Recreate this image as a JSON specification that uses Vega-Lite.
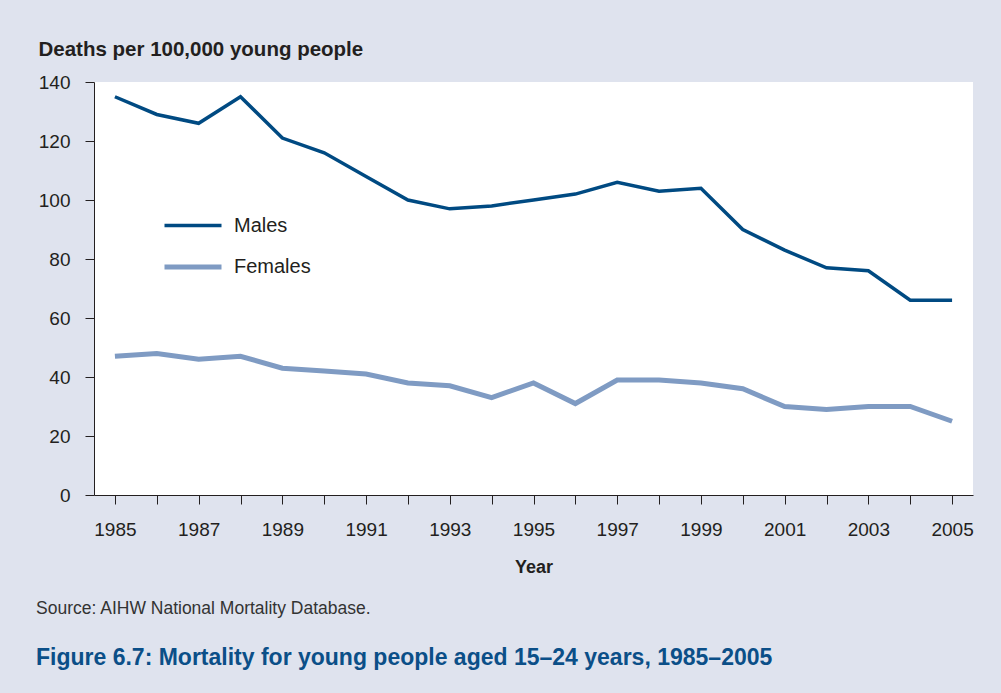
{
  "$schema": "https://vega.github.io/schema/vega-lite/v6.json",
  "width": 879,
  "height": 413,
  "autosize": {"type": "none"},
  "padding": {"left": 94, "top": 82, "right": 28, "bottom": 198},
  "background": "#dfe3ee",
  "config": {
    "view": {"fill": "white", "stroke": null},
    "font": "Liberation Sans"
  },
  "title": {
    "text": "Source: AIHW National Mortality Database.",
    "subtitle": "Figure 6.7: Mortality for young people aged 15–24 years, 1985–2005",
    "orient": "bottom",
    "anchor": "start",
    "frame": "group",
    "dx": -58,
    "offset": 24,
    "font": "Liberation Sans",
    "fontSize": 17.5,
    "fontWeight": "normal",
    "color": "#333333",
    "subtitleFont": "Liberation Sans",
    "subtitleFontSize": 23,
    "subtitleFontWeight": "bold",
    "subtitleColor": "#0b4f88",
    "subtitlePadding": 29
  },
  "data": {
    "values": [
      {"year": 1985, "sex": "Males", "rate": 135},
      {"year": 1986, "sex": "Males", "rate": 129},
      {"year": 1987, "sex": "Males", "rate": 126},
      {"year": 1988, "sex": "Males", "rate": 135},
      {"year": 1989, "sex": "Males", "rate": 121},
      {"year": 1990, "sex": "Males", "rate": 116},
      {"year": 1991, "sex": "Males", "rate": 108},
      {"year": 1992, "sex": "Males", "rate": 100},
      {"year": 1993, "sex": "Males", "rate": 97},
      {"year": 1994, "sex": "Males", "rate": 98},
      {"year": 1995, "sex": "Males", "rate": 100},
      {"year": 1996, "sex": "Males", "rate": 102},
      {"year": 1997, "sex": "Males", "rate": 106},
      {"year": 1998, "sex": "Males", "rate": 103},
      {"year": 1999, "sex": "Males", "rate": 104},
      {"year": 2000, "sex": "Males", "rate": 90},
      {"year": 2001, "sex": "Males", "rate": 83},
      {"year": 2002, "sex": "Males", "rate": 77},
      {"year": 2003, "sex": "Males", "rate": 76},
      {"year": 2004, "sex": "Males", "rate": 66},
      {"year": 2005, "sex": "Males", "rate": 66},
      {"year": 1985, "sex": "Females", "rate": 47},
      {"year": 1986, "sex": "Females", "rate": 48},
      {"year": 1987, "sex": "Females", "rate": 46},
      {"year": 1988, "sex": "Females", "rate": 47},
      {"year": 1989, "sex": "Females", "rate": 43},
      {"year": 1990, "sex": "Females", "rate": 42},
      {"year": 1991, "sex": "Females", "rate": 41},
      {"year": 1992, "sex": "Females", "rate": 38},
      {"year": 1993, "sex": "Females", "rate": 37},
      {"year": 1994, "sex": "Females", "rate": 33},
      {"year": 1995, "sex": "Females", "rate": 38},
      {"year": 1996, "sex": "Females", "rate": 31},
      {"year": 1997, "sex": "Females", "rate": 39},
      {"year": 1998, "sex": "Females", "rate": 39},
      {"year": 1999, "sex": "Females", "rate": 38},
      {"year": 2000, "sex": "Females", "rate": 36},
      {"year": 2001, "sex": "Females", "rate": 30},
      {"year": 2002, "sex": "Females", "rate": 29},
      {"year": 2003, "sex": "Females", "rate": 30},
      {"year": 2004, "sex": "Females", "rate": 30},
      {"year": 2005, "sex": "Females", "rate": 25}
    ]
  },
  "mark": {"type": "line", "strokeJoin": "miter", "strokeCap": "butt"},
  "encoding": {
    "x": {
      "field": "year",
      "type": "quantitative",
      "scale": {"domain": [1984.5, 2005.5], "nice": false, "zero": false},
      "axis": {
        "title": "Year",
        "values": [1985,1986,1987,1988,1989,1990,1991,1992,1993,1994,1995,1996,1997,1998,1999,2000,2001,2002,2003,2004,2005],
        "format": "d",
        "labelExpr": "datum.value % 2 == 1 ? datum.label : ''",
        "grid": false,
        "domainColor": "#231f20",
        "tickColor": "#231f20",
        "tickSize": 9,
        "labelFont": "Liberation Sans",
        "labelFontSize": 19,
        "labelColor": "#231f20",
        "labelPadding": 16,
        "labelFlush": false,
        "labelOverlap": false,
        "titleFont": "Liberation Sans",
        "titleFontSize": 18,
        "titleFontWeight": "bold",
        "titleColor": "#231f20",
        "titlePadding": 19
      }
    },
    "y": {
      "field": "rate",
      "type": "quantitative",
      "scale": {"domain": [0, 140], "nice": false},
      "axis": {
        "title": "Deaths per 100,000 young people",
        "values": [0, 20, 40, 60, 80, 100, 120, 140],
        "grid": false,
        "domainColor": "#231f20",
        "tickColor": "#231f20",
        "tickSize": 9,
        "labelFont": "Liberation Sans",
        "labelFontSize": 19,
        "labelColor": "#231f20",
        "labelPadding": 15,
        "labelFlush": false,
        "titleAngle": 0,
        "titleAlign": "left",
        "titleBaseline": "alphabetic",
        "titleX": -56,
        "titleY": -27,
        "titleFont": "Liberation Sans",
        "titleFontSize": 20.5,
        "titleFontWeight": "bold",
        "titleColor": "#231f20"
      }
    },
    "color": {
      "field": "sex",
      "type": "nominal",
      "scale": {"domain": ["Males", "Females"], "range": ["#004a82", "#7f9bc3"]},
      "legend": {
        "title": null,
        "orient": "none",
        "legendX": 68,
        "legendY": 113,
        "symbolType": "stroke",
        "symbolSize": 3249,
        "symbolStrokeWidth": 4,
        "labelFont": "Liberation Sans",
        "labelFontSize": 20,
        "labelColor": "#231f20",
        "labelOffset": 10,
        "rowPadding": -19,
        "padding": 0
      }
    },
    "strokeWidth": {
      "field": "sex",
      "type": "nominal",
      "scale": {"domain": ["Males", "Females"], "range": [3.5, 5]},
      "legend": null
    }
  }
}
